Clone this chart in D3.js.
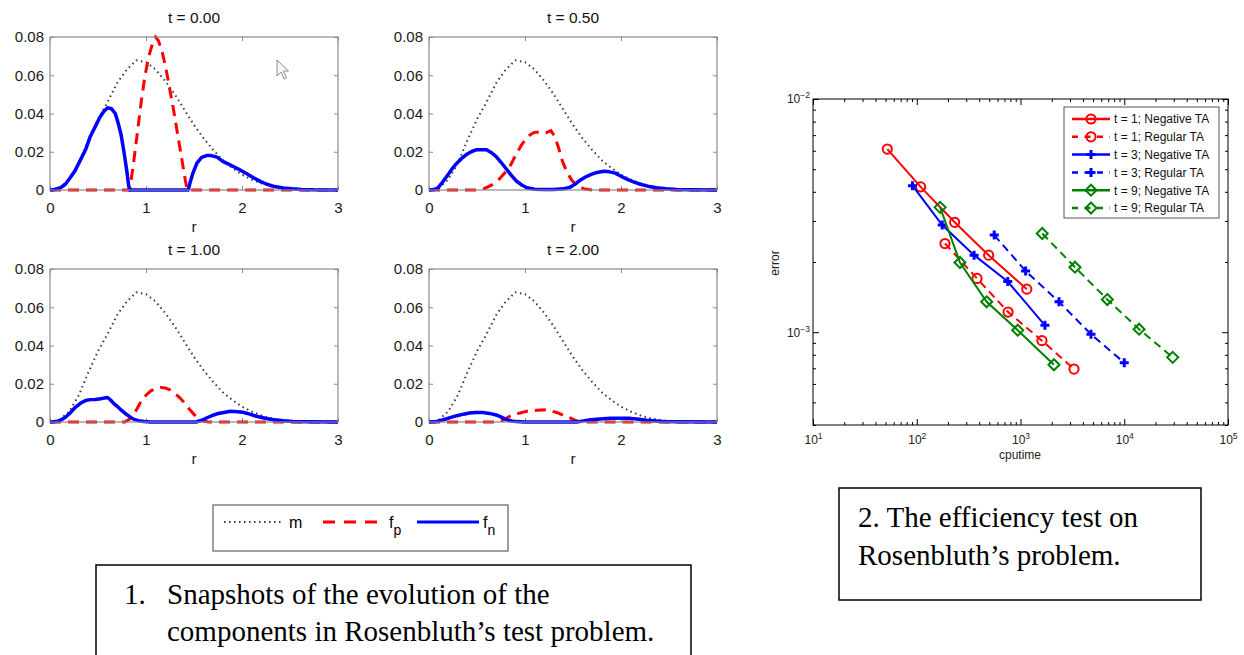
<!DOCTYPE html>
<html>
<head>
<meta charset="utf-8">
<script src="https://cdn.jsdelivr.net/npm/d3@7"></script>
<style>
  body { margin: 0; background: #fff; }
  svg { display: block; }
</style>
</head>
<body>
<script>
// ---------- data: snapshots (left) ----------
const rTicks = [0, 1, 2, 3]
const fTicks = [0, 0.02, 0.04, 0.06, 0.08]
const snapTitles = ["t = 0.00", "t = 0.50", "t = 1.00", "t = 2.00"]

// m (dotted), same in every snapshot
const mCurve = [[0,0],[0.1,0.001],[0.2,0.0055],[0.3,0.014],[0.4,0.026],[0.5,0.037],[0.6,0.046],[0.7,0.056],
  [0.8,0.063],[0.9,0.0678],[1.0,0.0668],[1.1,0.063],[1.2,0.057],[1.3,0.050],[1.4,0.042],[1.5,0.034],[1.6,0.027],
  [1.7,0.021],[1.8,0.0155],[1.9,0.0115],[2.0,0.008],[2.1,0.0055],[2.2,0.0035],[2.3,0.002],[2.4,0.0011],
  [2.5,0.0005],[2.6,0.0002],[2.7,0.0001],[2.8,0],[3,0]]

const fp00 = [[0,0],[0.83,0],[0.87,0.014],[0.91,0.030],[0.95,0.046],[0.99,0.060],[1.03,0.070],[1.07,0.077],
  [1.10,0.080],[1.13,0.078],[1.17,0.072],[1.21,0.063],[1.25,0.052],[1.29,0.041],[1.33,0.029],[1.37,0.017],
  [1.41,0.005],[1.43,0],[3,0]]
const fn00 = [[0,0],[0.05,0.0003],[0.11,0.0012],[0.16,0.003],[0.21,0.0064],[0.26,0.010],[0.32,0.016],[0.37,0.021],
  [0.42,0.028],[0.47,0.033],[0.52,0.038],[0.56,0.041],[0.60,0.043],[0.64,0.0425],[0.68,0.040],[0.71,0.035],
  [0.74,0.029],[0.77,0.020],[0.80,0.010],[0.82,0.002],[0.83,0],[1.44,0],[1.46,0.004],[1.49,0.009],[1.53,0.014],
  [1.58,0.017],[1.63,0.018],[1.68,0.018],[1.74,0.0172],[1.80,0.015],[1.86,0.0135],[1.92,0.012],[1.98,0.0105],
  [2.05,0.0085],[2.12,0.0064],[2.19,0.0045],[2.26,0.003],[2.34,0.0018],[2.43,0.0011],[2.52,0.0006],
  [2.62,0.0003],[2.75,0.0001],[3,0]]

const fp05 = [[0,0],[0.5,0],[0.58,0.0008],[0.65,0.0025],[0.72,0.005],[0.79,0.009],[0.85,0.013],[0.91,0.019],
  [0.97,0.024],[1.03,0.028],[1.09,0.030],[1.16,0.0305],[1.22,0.030],[1.27,0.031],[1.31,0.028],[1.35,0.022],
  [1.39,0.015],[1.44,0.009],[1.49,0.005],[1.55,0.002],[1.62,0.0005],[1.7,0],[3,0]]
const fn05 = [[0,0],[0.05,0.0002],[0.09,0.001],[0.14,0.004],[0.19,0.0075],[0.24,0.011],[0.29,0.014],[0.34,0.0165],
  [0.39,0.0185],[0.44,0.020],[0.49,0.021],[0.55,0.021],[0.60,0.021],[0.65,0.0195],[0.70,0.0175],[0.75,0.0145],
  [0.81,0.0107],[0.86,0.0075],[0.91,0.0047],[0.97,0.0025],[1.02,0.0012],[1.10,0.0004],[1.20,0.0002],[1.30,0.0002],
  [1.40,0.0006],[1.47,0.0014],[1.52,0.003],[1.57,0.005],[1.63,0.0068],[1.69,0.0082],[1.75,0.0092],[1.82,0.0098],
  [1.88,0.0095],[1.94,0.0088],[2.00,0.0072],[2.06,0.0057],[2.13,0.0042],[2.20,0.003],[2.28,0.002],[2.37,0.0012],
  [2.47,0.0006],[2.58,0.0003],[2.75,0.0001],[3,0]]

const fp10 = [[0,0],[0.78,0],[0.83,0.0015],[0.87,0.0038],[0.91,0.0072],[0.95,0.011],[1.00,0.014],[1.05,0.0163],
  [1.10,0.0175],[1.15,0.018],[1.20,0.0178],[1.25,0.0168],[1.30,0.015],[1.35,0.0128],[1.40,0.010],[1.45,0.0068],
  [1.50,0.004],[1.55,0.0018],[1.60,0.0005],[1.65,0],[3,0]]
const fn10 = [[0,0],[0.06,0.0002],[0.11,0.0009],[0.16,0.0025],[0.21,0.0047],[0.26,0.0075],[0.32,0.0099],
  [0.37,0.0112],[0.42,0.0117],[0.47,0.0118],[0.53,0.0122],[0.57,0.0126],[0.60,0.0128],[0.63,0.0115],[0.66,0.0099],
  [0.70,0.0082],[0.74,0.0063],[0.78,0.0046],[0.83,0.0028],[0.87,0.0015],[0.92,0.0007],[0.98,0.0003],[1.05,0],
  [1.52,0],[1.58,0.0009],[1.63,0.0021],[1.69,0.0034],[1.74,0.0043],[1.81,0.005],[1.88,0.0056],[1.95,0.0054],
  [2.01,0.0051],[2.08,0.0041],[2.15,0.003],[2.24,0.002],[2.33,0.0012],[2.43,0.0006],[2.53,0.0003],[2.7,0.0001],[3,0]]

const fp20 = [[0,0],[0.70,0],[0.77,0.0009],[0.84,0.003],[0.90,0.0042],[0.95,0.0047],[1.00,0.0054],[1.05,0.0059],
  [1.12,0.0061],[1.18,0.0063],[1.22,0.0064],[1.27,0.0058],[1.33,0.005],[1.40,0.0035],[1.47,0.0021],[1.52,0.001],
  [1.57,0],[3,0]]
const fn20 = [[0,0],[0.08,0.0003],[0.15,0.0012],[0.22,0.0023],[0.29,0.0033],[0.36,0.0041],[0.42,0.0047],
  [0.49,0.005],[0.56,0.005],[0.63,0.0045],[0.70,0.0037],[0.76,0.0024],[0.81,0.0012],[0.86,0.0005],[0.91,0.0002],
  [1.0,0],[1.54,0],[1.61,0.0006],[1.68,0.0012],[1.78,0.0016],[1.89,0.0019],[2.00,0.002],[2.10,0.0019],
  [2.19,0.0014],[2.27,0.0009],[2.36,0.0005],[2.44,0.0002],[2.6,0.0001],[3,0]]

// ---------- data: efficiency test (right) ----------
const cpuTicks = [1e1, 1e2, 1e3, 1e4, 1e5]
const errTicks = [1e-3, 1e-2]
const seriesNames = ["t = 1; Negative TA", "t = 1; Regular TA", "t = 3; Negative TA",
  "t = 3; Regular TA", "t = 9; Negative TA", "t = 9; Regular TA"]
const cpuT1Neg = [52, 109, 232, 493, 1150]
const errT1Neg = [6.1e-3, 4.2e-3, 2.96e-3, 2.14e-3, 1.53e-3]
const cpuT1Reg = [187, 381, 759, 1610, 3280]
const errT1Reg = [2.4e-3, 1.7e-3, 1.22e-3, 9.2e-4, 6.95e-4]
const cpuT3Neg = [91, 176, 357, 753, 1720]
const errT3Neg = [4.25e-3, 2.88e-3, 2.14e-3, 1.65e-3, 1.07e-3]
const cpuT3Reg = [558, 1120, 2350, 4780, 10000]
const errT3Reg = [2.61e-3, 1.83e-3, 1.35e-3, 9.8e-4, 7.4e-4]
const cpuT9Neg = [168, 261, 472, 940, 2100]
const errT9Neg = [3.43e-3, 1.99e-3, 1.35e-3, 1.02e-3, 7.25e-4]
const cpuT9Reg = [1620, 3350, 6870, 13900, 29300]
const errT9Reg = [2.65e-3, 1.9e-3, 1.38e-3, 1.03e-3, 7.8e-4]

// ---------- page ----------
const sans = "'Liberation Sans', Arial, sans-serif"
const serif = "'Liberation Serif', 'Times New Roman', serif"

let svg = d3.select("body").append("svg")
  .attr("width", 1244)
  .attr("height", 655)
  .style("font-family", sans)

// ---------- snapshots ----------
let pw = 288, ph = 153
let panels = [
  { title: snapTitles[0], fp: fp00, fn: fn00, left: 50, top: 37 },
  { title: snapTitles[1], fp: fp05, fn: fn05, left: 429, top: 37 },
  { title: snapTitles[2], fp: fp10, fn: fn10, left: 50, top: 269 },
  { title: snapTitles[3], fp: fp20, fn: fn20, left: 429, top: 269 }
]
let axisGray = "#8a8a8a"

panels.forEach(p => {
  let x = d3.scaleLinear().domain([0, 3]).range([0, pw])
  let y = d3.scaleLinear().domain([0, 0.08]).range([ph, 0])
  let g = svg.append("g").attr("transform", `translate(${p.left},${p.top})`)

  let styleAxis = a => {
    a.select(".domain").remove()
    a.selectAll(".tick line").attr("stroke", axisGray)
    a.selectAll(".tick text").attr("fill", "#1a1a1a").attr("font-size", 15).attr("font-family", sans)
  }

  g.append("g").attr("transform", `translate(0,${ph})`)
    .call(d3.axisBottom(x).tickValues(rTicks).tickSize(-4).tickPadding(12).tickFormat(d3.format("d")))
    .call(styleAxis)
  g.append("g")
    .call(d3.axisTop(x).tickValues(rTicks).tickSize(-4).tickFormat(""))
    .call(styleAxis)
  g.append("g")
    .call(d3.axisLeft(y).tickValues(fTicks).tickSize(-4).tickPadding(6).tickFormat(d => d ? d.toFixed(2) : "0"))
    .call(styleAxis)
  g.append("g").attr("transform", `translate(${pw},0)`)
    .call(d3.axisRight(y).tickValues(fTicks).tickSize(-4).tickFormat(""))
    .call(styleAxis)

  let line = d3.line().x(d => x(d[0])).y(d => y(d[1]))

  g.append("path").datum(mCurve).attr("d", line)
    .attr("fill", "none").attr("stroke", "#3a3a3a").attr("stroke-width", 2)
    .attr("stroke-dasharray", "1.5,3.5")
  g.append("path").datum(p.fp).attr("d", line)
    .attr("fill", "none").attr("stroke", "#ff0000").attr("stroke-width", 3)
    .attr("stroke-dasharray", "11,7")
  g.append("path").datum(p.fn).attr("d", line)
    .attr("fill", "none").attr("stroke", "#0000ff").attr("stroke-width", 3.5)
    .attr("stroke-linejoin", "round")

  g.append("rect").attr("width", pw).attr("height", ph)
    .attr("fill", "none").attr("stroke", axisGray).attr("stroke-width", 1.2)

  g.append("text").attr("x", pw / 2).attr("y", -14).attr("text-anchor", "middle")
    .attr("font-size", 15.5).attr("fill", "#111").text(p.title)
  g.append("text").attr("x", pw / 2).attr("y", ph + 42).attr("text-anchor", "middle")
    .attr("font-size", 15.5).attr("fill", "#222").text("r")
})

// mouse pointer left in the screenshot
svg.append("path")
  .attr("d", "M277,60 L277,76 L281,72 L284,79 L286.5,78 L283.5,71 L288.5,71 Z")
  .attr("fill", "#f6f6f6").attr("stroke", "#8c8c8c").attr("stroke-width", 1)

// shared legend
let lg = svg.append("g")
lg.append("rect").attr("x", 213).attr("y", 505).attr("width", 295).attr("height", 46)
  .attr("fill", "#fff").attr("stroke", "#808080").attr("stroke-width", 1.5)
lg.append("line").attr("x1", 224).attr("x2", 282).attr("y1", 522).attr("y2", 522)
  .attr("stroke", "#3a3a3a").attr("stroke-width", 2).attr("stroke-dasharray", "1.5,3.5")
lg.append("text").attr("x", 289).attr("y", 528).attr("font-size", 16).text("m")
lg.append("line").attr("x1", 323).attr("x2", 386).attr("y1", 522).attr("y2", 522)
  .attr("stroke", "#ff0000").attr("stroke-width", 3).attr("stroke-dasharray", "12,9")
let tfp = lg.append("text").attr("x", 389).attr("y", 528).attr("font-size", 16)
tfp.append("tspan").text("f")
tfp.append("tspan").attr("dy", 7).attr("font-size", 14).text("p")
lg.append("line").attr("x1", 417).attr("x2", 479).attr("y1", 522).attr("y2", 522)
  .attr("stroke", "#0000ff").attr("stroke-width", 3)
let tfn = lg.append("text").attr("x", 483).attr("y", 528).attr("font-size", 16)
tfn.append("tspan").text("f")
tfn.append("tspan").attr("dy", 7).attr("font-size", 14).text("n")

// ---------- efficiency test ----------
let xc = d3.scaleLog().domain([1e1, 1e5]).range([813, 1228])
let ye = d3.scaleLog().domain([4e-4, 1e-2]).range([425, 99])
let isMajor = v => Math.abs(Math.log10(v) - Math.round(Math.log10(v))) < 1e-9
let xMinor = xc.ticks().filter(v => !isMajor(v))
let yMinor = ye.ticks().filter(v => !isMajor(v))

let eg = svg.append("g")
let tickStyle = a => {
  a.select(".domain").remove()
  a.selectAll(".tick line").attr("stroke", "#000")
  a.selectAll(".tick text").attr("fill", "#222").attr("font-size", 12).attr("font-family", sans)
}

// minor ticks
eg.append("g").attr("transform", "translate(0,425)")
  .call(d3.axisBottom(xc).tickValues(xMinor).tickSize(-3).tickFormat("")).call(tickStyle)
eg.append("g").attr("transform", "translate(0,99)")
  .call(d3.axisTop(xc).tickValues(xMinor).tickSize(-3).tickFormat("")).call(tickStyle)
eg.append("g").attr("transform", "translate(813,0)")
  .call(d3.axisLeft(ye).tickValues(yMinor).tickSize(-3).tickFormat("")).call(tickStyle)
eg.append("g").attr("transform", "translate(1228,0)")
  .call(d3.axisRight(ye).tickValues(yMinor).tickSize(-3).tickFormat("")).call(tickStyle)

// major ticks with 10^n labels
let xAxis = eg.append("g").attr("transform", "translate(0,425)")
  .call(d3.axisBottom(xc).tickValues(cpuTicks).tickSize(-6).tickPadding(10).tickFormat(""))
  .call(tickStyle)
xAxis.selectAll(".tick text").each(function (d) {
  let t = d3.select(this).attr("dy", "0.71em")
  t.append("tspan").text("10")
  t.append("tspan").attr("dy", -5).attr("font-size", 8.5).text(Math.round(Math.log10(d)))
})
eg.append("g").attr("transform", "translate(0,99)")
  .call(d3.axisTop(xc).tickValues(cpuTicks).tickSize(-6).tickFormat("")).call(tickStyle)
let yAxis = eg.append("g").attr("transform", "translate(813,0)")
  .call(d3.axisLeft(ye).tickValues(errTicks).tickSize(-6).tickPadding(3).tickFormat(""))
  .call(tickStyle)
yAxis.selectAll(".tick text").each(function (d) {
  let t = d3.select(this)
  t.append("tspan").text("10")
  t.append("tspan").attr("dy", -5).attr("font-size", 8.5).text("\u2212" + Math.abs(Math.round(Math.log10(d))))
})
eg.append("g").attr("transform", "translate(1228,0)")
  .call(d3.axisRight(ye).tickValues(errTicks).tickSize(-6).tickFormat("")).call(tickStyle)

eg.append("rect").attr("x", 813).attr("y", 99).attr("width", 415).attr("height", 326)
  .attr("fill", "none").attr("stroke", "#000").attr("stroke-width", 1)

eg.append("text").attr("x", 1020).attr("y", 459).attr("text-anchor", "middle")
  .attr("font-size", 12).attr("fill", "#222").text("cputime")
eg.append("text").attr("transform", "translate(779,263) rotate(-90)").attr("text-anchor", "middle")
  .attr("font-size", 12).attr("fill", "#222").text("error")

let series = [
  { name: seriesNames[0], cpu: cpuT1Neg, err: errT1Neg, color: "#ff0000", dashed: false, marker: "circle" },
  { name: seriesNames[1], cpu: cpuT1Reg, err: errT1Reg, color: "#ff0000", dashed: true, marker: "circle" },
  { name: seriesNames[2], cpu: cpuT3Neg, err: errT3Neg, color: "#0000ff", dashed: false, marker: "plus" },
  { name: seriesNames[3], cpu: cpuT3Reg, err: errT3Reg, color: "#0000ff", dashed: true, marker: "plus" },
  { name: seriesNames[4], cpu: cpuT9Neg, err: errT9Neg, color: "#008000", dashed: false, marker: "diamond" },
  { name: seriesNames[5], cpu: cpuT9Reg, err: errT9Reg, color: "#008000", dashed: true, marker: "diamond" }
]

let markerPath = {
  plus: "M-4.5,0H4.5M0,-4.5V4.5",
  diamond: "M0,-5.5L5.5,0L0,5.5L-5.5,0Z"
}
let drawMarker = (sel, s) => {
  if (s.marker === "circle") {
    sel.append("circle").attr("r", 4.6).attr("fill", "none")
      .attr("stroke", s.color).attr("stroke-width", 2)
  } else {
    sel.append("path").attr("d", markerPath[s.marker]).attr("fill", "none")
      .attr("stroke", s.color).attr("stroke-width", s.marker === "plus" ? 3 : 2)
  }
}

let eline = d3.line().x(d => xc(d[0])).y(d => ye(d[1]))
series.forEach(s => {
  let pts = s.cpu.map((c, i) => [c, s.err[i]])
  eg.append("path").datum(pts).attr("d", eline)
    .attr("fill", "none").attr("stroke", s.color).attr("stroke-width", 2)
    .attr("stroke-dasharray", s.dashed ? "8,5" : null)
  eg.selectAll(null).data(pts).enter().append("g")
    .attr("transform", d => `translate(${xc(d[0])},${ye(d[1])})`)
    .each(function () { drawMarker(d3.select(this), s) })
})

// legend
let elg = eg.append("g")
elg.append("rect").attr("x", 1064).attr("y", 107).attr("width", 155).attr("height", 111)
  .attr("fill", "#fff").attr("stroke", "#555").attr("stroke-width", 1)
series.forEach((s, i) => {
  let yy = 119 + i * 17.8
  elg.append("line").attr("x1", 1072).attr("x2", 1110).attr("y1", yy).attr("y2", yy)
    .attr("stroke", s.color).attr("stroke-width", 2.5)
    .attr("stroke-dasharray", s.dashed ? "6,6.5" : null)
  drawMarker(elg.append("g").attr("transform", `translate(1091,${yy})`), s)
  elg.append("text").attr("x", 1114).attr("y", yy + 4.3).attr("font-size", 12)
    .attr("fill", "#111").text(s.name)
})

// ---------- captions ----------
svg.append("rect").attr("x", 96).attr("y", 565).attr("width", 595).attr("height", 120)
  .attr("fill", "none").attr("stroke", "#000").attr("stroke-width", 1.5)
let cap1 = svg.append("g").style("font-family", serif).attr("font-size", 29).attr("fill", "#000")
cap1.append("text").attr("x", 124).attr("y", 604).text("1.")
cap1.append("text").attr("x", 167).attr("y", 604).text("Snapshots of the evolution of the")
cap1.append("text").attr("x", 167).attr("y", 641).text("components in Rosenbluth\u2019s test problem.")

svg.append("rect").attr("x", 839).attr("y", 488).attr("width", 362).attr("height", 112)
  .attr("fill", "none").attr("stroke", "#000").attr("stroke-width", 1.5)
let cap2 = svg.append("g").style("font-family", serif).attr("font-size", 29).attr("fill", "#000")
cap2.append("text").attr("x", 858).attr("y", 527).text("2. The efficiency test on")
cap2.append("text").attr("x", 858).attr("y", 565).text("Rosenbluth\u2019s problem.")
</script>
</body>
</html>
